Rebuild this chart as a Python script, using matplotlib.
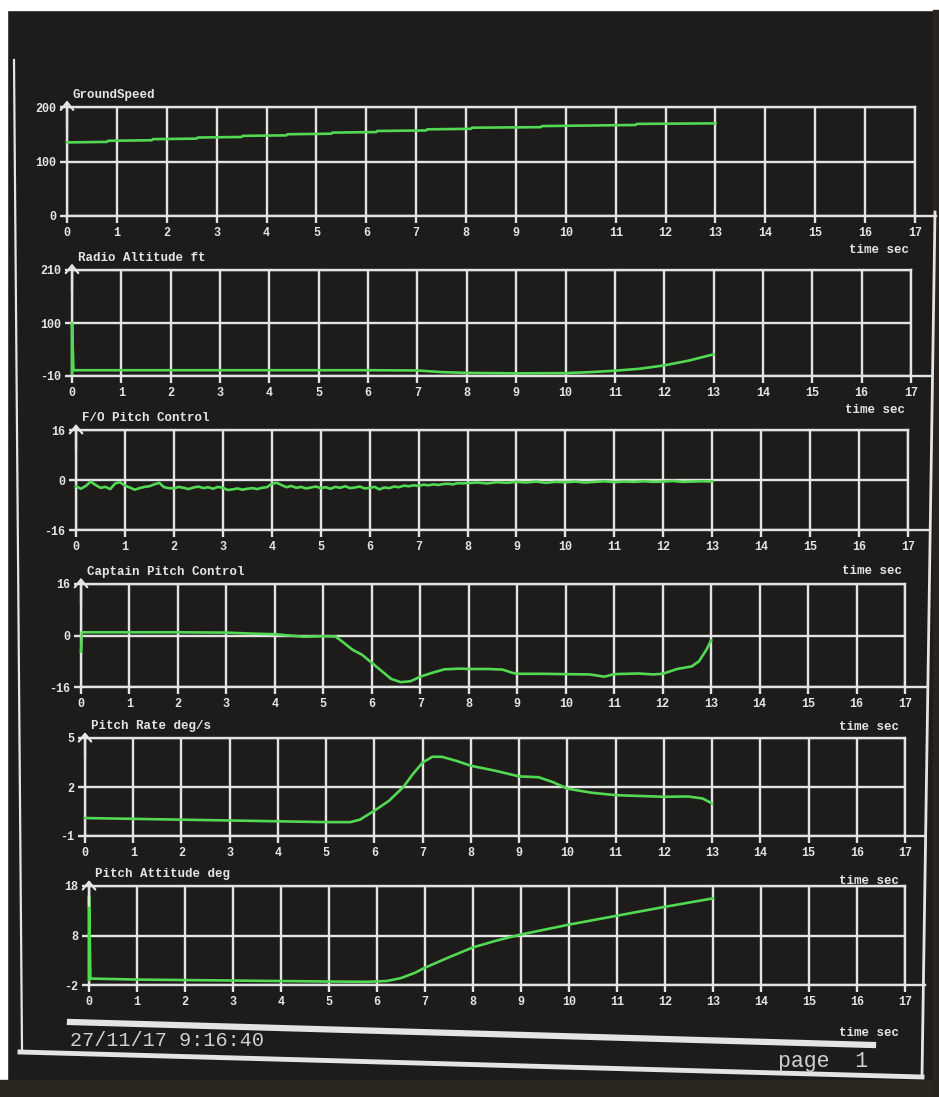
import numpy as np
import matplotlib
matplotlib.use('Agg')
import matplotlib.pyplot as plt
from matplotlib.lines import Line2D
from matplotlib.patches import Rectangle

plt.rcParams['axes.unicode_minus'] = False

# ---- data ----
titles = ['GroundSpeed', 'Radio Altitude ft', 'F/O Pitch Control',
          'Captain Pitch Control', 'Pitch Rate deg/s', 'Pitch Attitude deg']
yticks = [[0, 100, 200], [-10, 100, 210], [-16, 0, 16],
          [-16, 0, 16], [-1, 2, 5], [-2, 8, 18]]
time_ticks = list(range(18))

gs_t = [0, 0.8, 0.82, 1.7, 1.72, 2.6, 2.62, 3.5, 3.52, 4.4, 4.42, 5.3, 5.32,
        6.2, 6.22, 7.2, 7.22, 8.1, 8.12, 9.5, 9.52, 11.4, 11.42, 13.0]
gs_v = [135, 136, 138, 139, 141, 142, 144, 145, 147, 148, 150, 151, 153,
        154, 156, 157, 159, 160, 162, 163, 165, 167, 169, 170]

ra_t = [0, 0, 0.03, 2, 4, 6, 7, 7.5, 8, 9, 10, 10.5, 11, 11.5, 12, 12.5, 13]
ra_v = [-5, 100, 2, 2, 2, 2, 1.5, -2, -3.5, -4.5, -4, -2, 1, 5, 12, 22, 35]

fo_t = np.concatenate([np.linspace(0, 7.9, 80), np.linspace(8, 13, 26)])
fo_v = [-2.0, -2.8, -1.9, -0.5, -1.6, -2.5, -2.2, -2.9, -1.1, -0.7,
        -1.8, -2.4, -3.1, -2.6, -2.2, -2.0, -1.4, -0.9, -2.3, -2.6,
        -2.7, -2.2, -2.5, -2.9, -2.4, -2.1, -2.6, -2.3, -2.8, -2.2,
        -2.5, -3.2, -3.0, -2.7, -3.1, -2.8, -2.6, -2.9, -2.5, -2.3,
        -1.2, -0.9, -1.6, -2.3, -1.9, -2.5, -2.2, -2.7, -2.4, -2.1,
        -2.6, -2.3, -2.8, -2.2, -2.5, -2.0, -2.6, -2.4, -2.1, -2.7,
        -2.5, -2.2, -3.0, -2.4, -2.6, -2.1, -2.3, -1.8, -2.0, -1.7,
        -1.9, -1.5, -1.7, -1.4, -1.6, -1.3, -1.2, -1.4, -1.0, -1.1,
        -1.0, -0.8, -1.1, -0.7, -0.9, -0.6, -0.8, -0.5, -0.9, -0.6,
        -0.7, -0.5, -0.8, -0.6, -0.4, -0.7, -0.5, -0.6, -0.4, -0.6,
        -0.5, -0.3, -0.6, -0.5, -0.4, -0.5]

cap_t = [0, 0.02, 1, 2, 3, 3.5, 4, 4.3, 4.6, 5.0, 5.25, 5.4, 5.6, 5.8, 6.0,
         6.2, 6.4, 6.6, 6.8, 7.0, 7.2, 7.5, 7.8, 8.0, 8.4, 8.7, 8.9, 9.0,
         9.5, 10.0, 10.5, 10.8, 11.0, 11.5, 11.8, 12.0, 12.3, 12.6, 12.75,
         12.9, 13.0]
cap_v = [-5, 1.0, 1.0, 1.0, 0.9, 0.6, 0.4, 0.0, -0.4, -0.2, -0.3, -2.0, -4.4,
         -6.0, -8.5, -11.0, -13.5, -14.5, -14.2, -12.8, -11.8, -10.5, -10.3,
         -10.4, -10.4, -10.6, -11.6, -11.9, -11.9, -12.0, -12.1, -12.8, -12.0,
         -11.8, -12.1, -11.9, -10.4, -9.6, -8.0, -4.5, -1.5]

pr_t = [0, 1, 2, 3, 4, 5, 5.5, 5.7, 6.0, 6.3, 6.6, 6.8, 7.0, 7.2, 7.4, 7.7,
        8.0, 8.5, 9.0, 9.4, 9.7, 10.0, 10.5, 11.0, 11.5, 12.0, 12.5, 12.8, 13.0]
pr_v = [0.1, 0.05, 0.0, -0.05, -0.1, -0.15, -0.15, 0.0, 0.55, 1.15, 2.0,
        2.8, 3.5, 3.85, 3.85, 3.6, 3.3, 3.0, 2.65, 2.6, 2.3, 1.9, 1.65, 1.5,
        1.45, 1.4, 1.42, 1.3, 1.0]

pa_t = [0, 0, 0.03, 1, 2, 3, 4, 5, 5.8, 6.2, 6.5, 6.8, 7.0, 7.5, 8.0, 8.5,
        9.0, 9.5, 10.0, 11.0, 12.0, 13.0]
pa_v = [-1, 16, -0.7, -0.9, -1.0, -1.1, -1.2, -1.3, -1.35, -1.2, -0.6, 0.5,
        1.5, 3.6, 5.6, 7.0, 8.2, 9.2, 10.2, 12.0, 13.8, 15.5]

series = [(gs_t, gs_v), (ra_t, ra_v), (fo_t, fo_v),
          (cap_t, cap_v), (pr_t, pr_v), (pa_t, pa_v)]

# ---- layout (pixels: left, right, top, bottom, extra drop of "time sec") ----
W, H = 939, 1097
boxes = [(67, 915, 107, 216, 0), (72, 911, 270, 376, 0),
         (76, 908, 430, 530, 7), (81, 905, 584, 687, 6),
         (85, 905, 738, 836, 11), (89, 905, 886, 985, 14)]

bg = '#1d1c1a'
fg = '#e4e4e4'
green = '#52d852'
mono = 'Liberation Mono'


def fx(px):
    return px / W


def fy(py):
    return 1 - py / H


fig = plt.figure(figsize=(W / 100, H / 100), dpi=100, facecolor=bg)

for (L, R, T, B, drop), title, yt, (t, v) in zip(boxes, titles, yticks, series):
    ax = fig.add_axes([fx(L), fy(B), (R - L) / W, (B - T) / H])
    ax.set_facecolor(bg)
    ax.set_xlim(0, 17)
    ax.set_ylim(yt[0], yt[-1])
    ax.set_xticks(time_ticks)
    ax.set_yticks(yt)
    ax.grid(True, color=fg, lw=1.7)
    ax.set_axisbelow(True)
    for s in ax.spines.values():
        s.set_color(fg)
        s.set_linewidth(1.7)
    ax.tick_params(colors=fg, length=5, width=1.7, labelsize=8.5, pad=3)
    for lab in ax.get_xticklabels() + ax.get_yticklabels():
        lab.set_fontfamily(mono)
        lab.set_fontweight('bold')
    ax.plot(t, v, color=green, lw=1.9, clip_on=False, zorder=3)
    # bottom line runs on past the frame
    ax.axhline(yt[0], xmin=1, xmax=1.025, color=fg, lw=1.7, clip_on=False)
    # arrow head on the y axis
    ax.annotate('', xy=(0, 1.06), xycoords='axes fraction', xytext=(0, 0.8),
                arrowprops=dict(arrowstyle='->,head_length=0.55,head_width=0.45',
                                color=fg, lw=1.6, shrinkA=0, shrinkB=0))
    ax.annotate(title, xy=(0, 1), xycoords='axes fraction', xytext=(4, 4),
                textcoords='offset points', ha='left', va='bottom',
                color=fg, fontsize=9, fontfamily=mono, fontweight='bold')
    ax.annotate('time sec', xy=(1, 0), xycoords='axes fraction',
                xytext=(-4, -20 - drop * 0.72), textcoords='offset points',
                ha='right', va='top', color=fg, fontsize=9, fontfamily=mono,
                fontweight='bold')

# photo edges and screen frame
fig.add_artist(Rectangle((0, fy(10)), 1, 10 / H, transform=fig.transFigure,
                         color='white', zorder=0))
fig.add_artist(Rectangle((0, 0), 7 / W, 1, transform=fig.transFigure,
                         color='white', zorder=0))
fig.add_artist(Rectangle((0, 0), 1, 1 - 1080 / H,
                         transform=fig.transFigure, color='#2b2520', zorder=0))
fig.add_artist(Rectangle((fx(933), 0), 1, fy(10), transform=fig.transFigure,
                         color='#29231f', zorder=0))
fig.add_artist(Line2D([fx(14), fx(22)], [fy(60), fy(1050)],
                      transform=fig.transFigure, color=fg, lw=1.6))
fig.add_artist(Line2D([fx(20), fx(922)], [fy(1052), fy(1077)],
                      transform=fig.transFigure, color=fg, lw=3.5))
fig.add_artist(Line2D([fx(935), fx(922)], [fy(212), fy(1077)],
                      transform=fig.transFigure, color=fg, lw=2))
fig.add_artist(Line2D([fx(70), fx(873)], [fy(1022), fy(1045)],
                      transform=fig.transFigure, color=fg, lw=4.5))

fig.text(fx(70), fy(1040), '27/11/17 9:16:40', ha='left', va='center',
         color='#d0d0d0', fontsize=14.5, fontfamily=mono)
fig.text(fx(868), fy(1061), 'page  1', ha='right', va='center',
         color='#d0d0d0', fontsize=15.5, fontfamily=mono)

fig.savefig('out.png', dpi=100, facecolor=fig.get_facecolor())
